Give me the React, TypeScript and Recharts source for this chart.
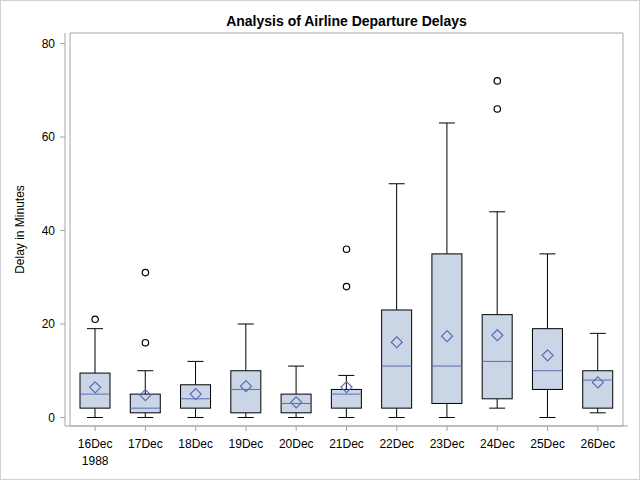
import { ComposedChart, Bar, Scatter, XAxis, YAxis, ReferenceArea, Label } from 'recharts'

const days = ['16Dec', '17Dec', '18Dec', '19Dec', '20Dec', '21Dec', '22Dec', '23Dec', '24Dec', '25Dec', '26Dec']
const whiskerLow = [0, 0, 0, 0, 0, 0, 0, 0, 2, 0, 1]
const q1 = [2, 1, 2, 1, 1, 2, 2, 3, 4, 6, 2]
const median = [5, 2, 4, 6, 3, 5, 11, 11, 12, 10, 8]
const q3 = [9.5, 5, 7, 10, 5, 6, 23, 35, 22, 19, 10]
const whiskerHigh = [19, 10, 12, 20, 11, 9, 50, 63, 44, 35, 18]
const means = [6.45, 4.8, 5.0, 6.7, 3.25, 6.5, 16.1, 17.4, 17.6, 13.3, 7.5]
const outlierA = [21, 31, null, null, null, 36, null, null, 72, null, null]
const outlierB = [null, 16, null, null, null, 28, null, null, 66, null, null]
const yTicks = [0, 20, 40, 60, 80]

const data = days.map((day, i) => ({
  day,
  low: whiskerLow[i],
  q1: q1[i],
  median: median[i],
  q3: q3[i],
  high: whiskerHigh[i],
  mean: means[i],
  outA: outlierA[i],
  outB: outlierB[i],
}))

const frame = '#a3a6ab'
const blue = '#5a6bb8'
const font = '"Liberation Sans", Arial, sans-serif'

function BoxShape(props: any) {
  const { x, y, width, height, payload } = props
  const top = Math.min(y, y + height)
  const bottom = Math.max(y, y + height)
  const span = payload.high - payload.low
  // whisker range is the bar extent, inner values mapped along it
  const px = (v: number) => bottom - ((v - payload.low) / span) * (bottom - top)
  const cx = x + width / 2
  const cap = 8
  return (
    <g>
      <line x1={cx} x2={cx} y1={px(payload.high)} y2={px(payload.q3)} stroke="#000" />
      <line x1={cx} x2={cx} y1={px(payload.q1)} y2={px(payload.low)} stroke="#000" />
      <line x1={cx - cap} x2={cx + cap} y1={px(payload.high)} y2={px(payload.high)} stroke="#000" />
      <line x1={cx - cap} x2={cx + cap} y1={px(payload.low)} y2={px(payload.low)} stroke="#000" />
      <rect x={x} y={px(payload.q3)} width={width} height={px(payload.q1) - px(payload.q3)} fill="#cad5e5" stroke="#000" />
      <line x1={x} x2={x + width} y1={px(payload.median)} y2={px(payload.median)} stroke={blue} />
    </g>
  )
}

function Diamond(props: any) {
  const { cx, cy } = props
  const r = 5.5
  return <path d={`M${cx},${cy - r}L${cx + r},${cy}L${cx},${cy + r}L${cx - r},${cy}Z`} fill="none" stroke={blue} strokeWidth={1.2} />
}

function makeOutlier(key: string) {
  return (props: any) => {
    const { cx, cy, payload } = props
    if (payload == null || payload[key] == null) return <g />
    return <circle cx={cx} cy={cy} r={3.2} fill="none" stroke="#000" strokeWidth={1.2} />
  }
}

function DayTick(props: any) {
  const { x, y, payload, index } = props
  return (
    <g>
      <text x={x} y={y} dy="0.71em" textAnchor="middle" fontSize={12} fill="#000" fontFamily={font}>
        {payload.value}
      </text>
      {index === 0 && (
        <text x={x} y={y + 17} dy="0.71em" textAnchor="middle" fontSize={12} fill="#000" fontFamily={font}>
          1988
        </text>
      )}
    </g>
  )
}

export default function App() {
  return (
    <div style={{ position: 'absolute', left: 0, top: 0, width: 640, height: 480, background: '#fff', fontFamily: font }}>
      <div style={{ position: 'absolute', left: 65, top: 13, width: 563, textAlign: 'center', fontSize: 14, fontWeight: 'bold', color: '#000' }}>
        Analysis of Airline Departure Delays
      </div>
      <ComposedChart width={640} height={480} data={data} margin={{ top: 33, right: 12, bottom: 0, left: 0 }}>
        <XAxis
          dataKey="day"
          height={54}
          padding={{ left: 5, right: 5 }}
          tick={<DayTick />}
          tickSize={5}
          tickMargin={8}
          tickLine={{ stroke: frame }}
          axisLine={{ stroke: frame }}
          interval={0}
        />
        <YAxis
          type="number"
          width={65}
          domain={[-1.82, 82.25]}
          ticks={yTicks}
          tickSize={5}
          tickMargin={5}
          tick={{ fill: '#000', fontSize: 12, fontFamily: font }}
          tickLine={{ stroke: frame }}
          axisLine={{ stroke: frame }}
        >
          <Label
            content={(p: any) => {
              const vb = p.viewBox
              const lx = vb.x + 24
              const ly = vb.y + vb.height / 2
              return (
                <text x={lx} y={ly} transform={`rotate(-90 ${lx} ${ly})`} textAnchor="middle" fontSize={12} fill="#000" fontFamily={font}>
                  Delay in Minutes
                </text>
              )
            }}
          />
        </YAxis>
        <ReferenceArea y1={-1.82} y2={82.25} fill="none" fillOpacity={0} stroke={frame} strokeOpacity={1} ifOverflow="visible" />
        <Bar dataKey={(d: any) => [d.low, d.high]} barSize={30} shape={<BoxShape />} isAnimationActive={false} />
        <Scatter dataKey="mean" shape={<Diamond />} isAnimationActive={false} />
        <Scatter dataKey="outA" shape={makeOutlier('outA')} isAnimationActive={false} />
        <Scatter dataKey="outB" shape={makeOutlier('outB')} isAnimationActive={false} />
      </ComposedChart>
      <div style={{ position: 'absolute', left: 0, top: 0, width: 640, height: 480, boxSizing: 'border-box', border: '1px solid #d0d0d0', pointerEvents: 'none' }} />
    </div>
  )
}
